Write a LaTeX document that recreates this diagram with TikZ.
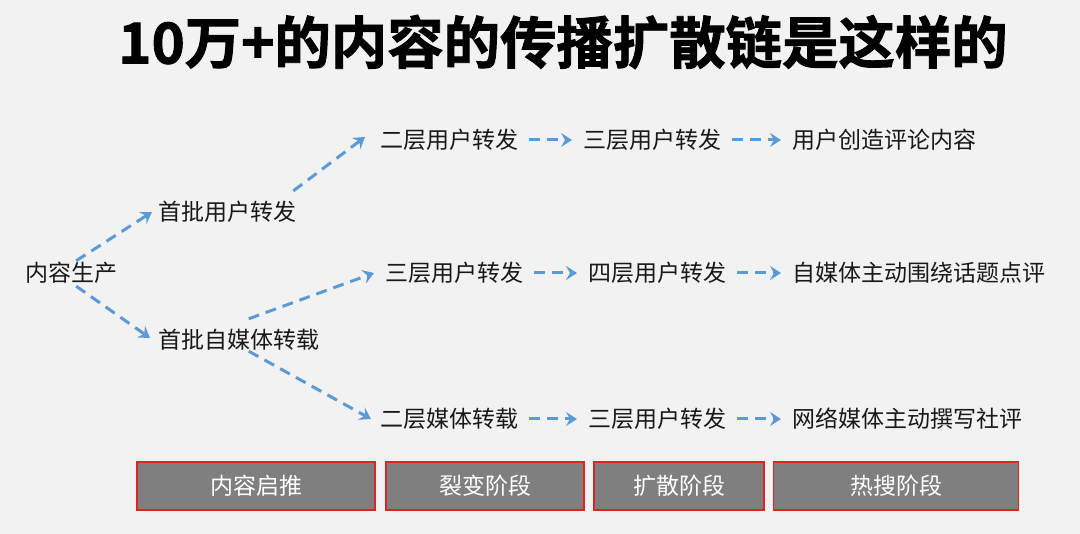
\documentclass[tikz,border=0pt]{standalone}
\usepackage{fontspec}
\setmainfont{Noto Sans CJK SC}
\newfontfamily\titelfont[FakeBold=1.6]{Noto Sans CJK SC Bold}
\usetikzlibrary{arrows.meta}
\definecolor{hg}{HTML}{F2F2F2}
\definecolor{pfeil}{HTML}{5B9BD5}
\definecolor{kasten}{HTML}{7F7F7F}
\definecolor{rand}{HTML}{E02424}

\begin{document}
\begin{tikzpicture}[x=1pt, y=1pt,
	txt/.style={anchor=west, inner sep=0pt, text height=0.88em, text depth=0.12em,
		font=\fontsize{23}{23}\selectfont, text=black!90},
	pf/.style={pfeil, line width=3pt, dash pattern=on 11pt off 7pt,
		-{Stealth[length=11pt, width=14pt, inset=4pt]}},
	hpf/.style={pf, shorten <=11pt, shorten >=11pt},
	phase/.style={draw=rand, line width=1.6pt, fill=kasten, text=white,
		minimum height=48pt, inner sep=0pt, font=\fontsize{23}{23}\selectfont}]
		% Hintergrund
		\fill[hg] (0,0) rectangle (1080,-534);
		% Titel
		\node (titel) at (563,-42) {\titelfont\fontsize{56.4}{56.4}\selectfont 10万+的内容的传播扩散链是这样的};
		% Knoten
		\node[txt] (quelle) at (25,-278) {内容生产};
		\node[txt] (nutzer) at (158,-217) {首批用户转发};
		\node[txt] (medien) at (158,-345) {首批自媒体转载};
		\node[txt] (a1) at (380,-145) {二层用户转发};
		\node[txt] (a2) at (583,-145) {三层用户转发};
		\node[txt] (a3) at (792,-145) {用户创造评论内容};
		\node[txt] (b1) at (385,-278) {三层用户转发};
		\node[txt] (b2) at (588,-278) {四层用户转发};
		\node[txt] (b3) at (792,-278) {自媒体主动围绕话题点评};
		\node[txt] (c1) at (380,-424) {二层媒体转载};
		\node[txt] (c2) at (588,-424) {三层用户转发};
		\node[txt] (c3) at (792,-424) {网络媒体主动撰写社评};
		% Verzweigung
		\draw[pf] ([shift={(5,12)}]quelle.north) -- ([shift={(-6,5)}]nutzer.west);
		\draw[pf] ([shift={(5,-3)}]quelle.south) -- ([shift={(-8,7)}]medien.west);
		\draw[pf] ([shift={(-3,21)}]nutzer.north east) -- ([shift={(-15,8)}]a1.west);
		\draw[pf] ([shift={(10,21)}]medien.north) -- ([shift={(-11,5)}]b1.west);
		\draw[pf] ([shift={(10,-1)}]medien.south) -- ([shift={(-9,5)}]c1.west);
		% Ketten
		\foreach \r in {a,b,c} {
			\draw[hpf] ([yshift=5]\r1.east) -- ([yshift=5]\r2.west);
			\draw[hpf] ([yshift=5]\r2.east) -- ([yshift=5]\r3.west);
		}
		% Phasen
		\node[phase, minimum width=238pt] (p1) at (256,-486) {内容启推};
		\node[phase, minimum width=198pt] (p2) at (485,-486) {裂变阶段};
		\node[phase, minimum width=170pt] (p3) at (679,-486) {扩散阶段};
		\node[phase, minimum width=245pt] (p4) at (896,-486) {热搜阶段};
	\end{tikzpicture}
\end{document}
